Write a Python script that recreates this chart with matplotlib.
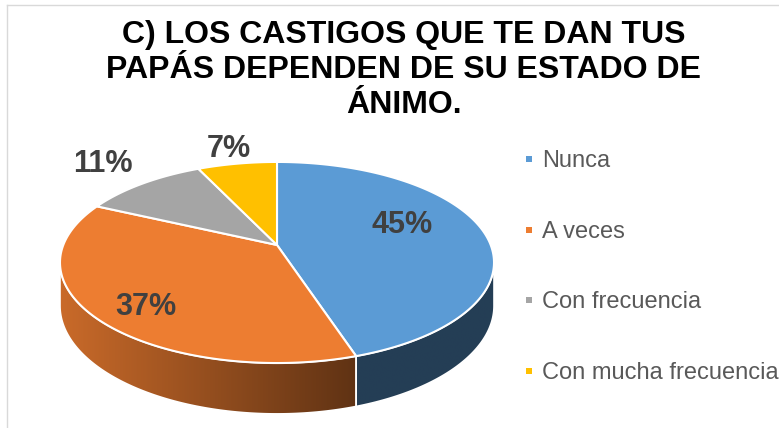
import numpy as np
import matplotlib.pyplot as plt
from matplotlib.patches import Polygon, Rectangle
from matplotlib.colors import to_rgb

# data
labels = ['Nunca', 'A veces', 'Con frecuencia', 'Con mucha frecuencia']
values = [45, 37, 11, 7]
colors = ['#5B9BD5', '#ED7D31', '#A5A5A5', '#FFC000']
title_lines = ['C) LOS CASTIGOS QUE TE DAN TUS',
               'PAPÁS DEPENDEN DE SU ESTADO DE',
               'ÁNIMO.']

# 3d-ish pie geometry (pixel coords, y down)
CX, CY = 277, 245
K, SX, SY = 0.174, 213.7, 97.5
DEPTH = 42
label_shift = [(-12, -13), (-17, 13), (-3, -6), (2, 4)]

plt.rcParams['font.family'] = ['Liberation Sans', 'DejaVu Sans']


def proj(t_deg, r=1.0):
    t = np.radians(t_deg)
    X, Y = r * np.cos(t), r * np.sin(t)
    d = 1 + K * Y
    return CX + SX * X / d, CY - SY * Y / d, d


def shade(x):
    # excel-like side lighting: lighter on the left, dark on the right
    return np.clip(0.85 - (x - 60) / (358 - 60) * 0.45, 0.4, 0.85)


fig = plt.figure(figsize=(7.79, 4.28), dpi=100)
ax = fig.add_axes([0, 0, 1, 1])
ax.set_xlim(0, 779)
ax.set_ylim(428, 0)
ax.axis('off')

# chart border (only left/top visible in the crop)
ax.plot([7.5, 7.5], [428, 5], color='#D9D9D9', lw=1)
ax.plot([7.5, 779], [5, 5], color='#D9D9D9', lw=1)

total = sum(values)
bounds = [90.0]
for v in values:
    bounds.append(bounds[-1] - 360.0 * v / total)

# silhouette angles of the front wall
tt = np.linspace(-270, 90, 3601)
px_all = proj(tt)[0]
right_mask = tt > -90
t_right = tt[right_mask][np.argmax(px_all[right_mask])]
t_left = tt[~right_mask][np.argmin(px_all[~right_mask])]

# walls
for i, col in enumerate(colors):
    hi = min(bounds[i], t_right)
    lo = max(bounds[i + 1], t_left)
    if hi <= lo:
        continue
    ts = np.linspace(hi, lo, 200)
    x, y, d = proj(ts)
    yb = y + DEPTH / d
    pts = np.vstack([np.column_stack([x, y]), np.column_stack([x, yb])[::-1]])
    patch = Polygon(pts, closed=True, facecolor='none', edgecolor='white',
                    lw=1.2, zorder=2)
    ax.add_patch(patch)
    x0, x1 = pts[:, 0].min(), pts[:, 0].max()
    gx = np.linspace(x0, x1, 300)
    img = np.array(to_rgb(col))[None, None, :] * shade(gx)[None, :, None]
    im = ax.imshow(img, extent=(x0, x1, pts[:, 1].max(), pts[:, 1].min()),
                   aspect='auto', interpolation='bilinear', zorder=1)
    im.set_clip_path(patch)

# top face
for i, col in enumerate(colors):
    ts = np.linspace(bounds[i], bounds[i + 1], 200)
    x, y, _ = proj(ts)
    pts = np.vstack([[CX, CY], np.column_stack([x, y])])
    ax.add_patch(Polygon(pts, closed=True, facecolor=col, edgecolor='white',
                         lw=1.5, joinstyle='round', zorder=3))

# percentage labels
for i, v in enumerate(values):
    mid = (bounds[i] + bounds[i + 1]) / 2
    r = 0.66 if v >= 15 else 1.32
    lx, ly, _ = proj(mid, r)
    lx += label_shift[i][0]
    ly += label_shift[i][1]
    ax.text(lx, ly + 11, f'{v}%', ha='center', va='baseline', fontsize=22,
            fontweight='bold', color='#404040', zorder=5)

# title
for j, line in enumerate(title_lines):
    ax.text(404, 43 + 35 * j, line, ha='center', va='baseline', fontsize=23,
            fontweight='bold', color='black')

# legend
for i, (lab, col) in enumerate(zip(labels, colors)):
    yc = 159 + 70.7 * i
    ax.add_patch(Rectangle((526, yc - 3), 6, 6, facecolor=col, edgecolor='none'))
    ax.text(542, yc + 8, lab, ha='left', va='baseline', fontsize=17,
            color='#595959', clip_on=True)

fig.savefig('out.png', dpi=100)
